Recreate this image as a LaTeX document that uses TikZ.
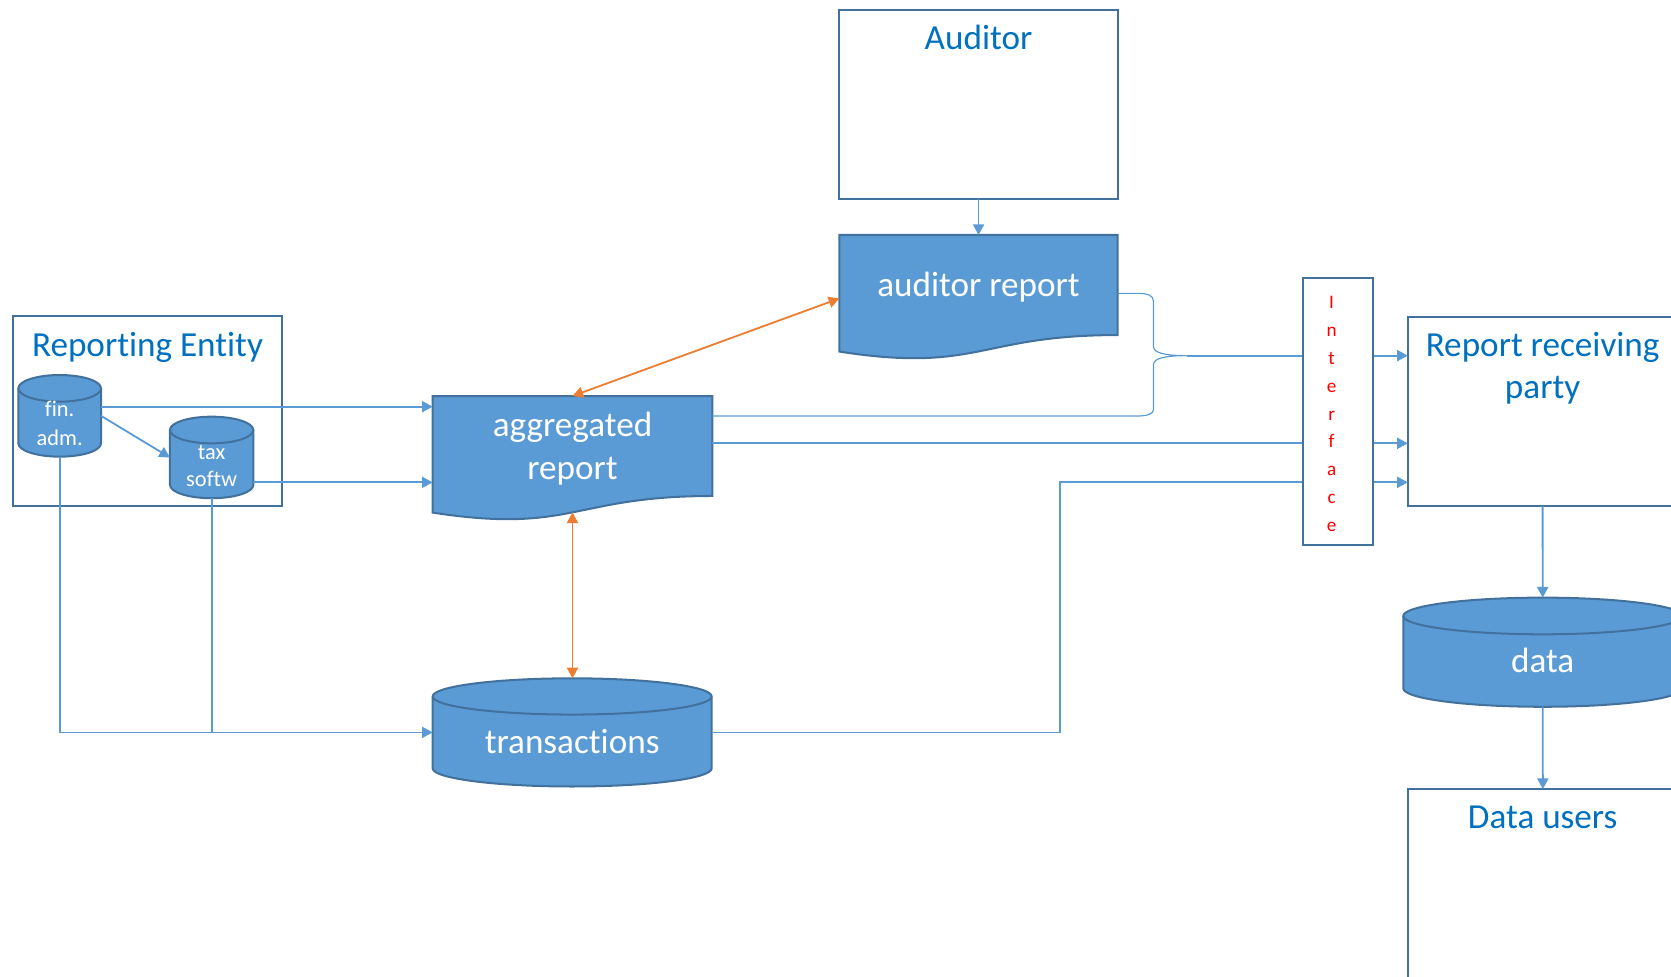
\documentclass[tikz,border=0pt]{standalone}
\usepackage{fontspec}
\setmainfont{Carlito}[Ligatures=CommonOff]
\usetikzlibrary{arrows.meta}
\definecolor{fillblue}{HTML}{5B9BD5}
\definecolor{edgeblue}{HTML}{41719C}
\definecolor{txtblue}{HTML}{0070C0}
\definecolor{orng}{HTML}{ED7D31}
\newcommand\cylbody[5]{%
  \pgfmathsetmacro\cylrx{(#2-#1)/4}\pgfmathsetmacro\cylry{#5/2}%
  \path[shapefill] (#1,#3) -- (#1,#4) arc[start angle=180,end angle=360,x radius=\cylrx pt,y radius=\cylry pt]
     -- (#2,#3) arc[start angle=0,end angle=180,x radius=\cylrx pt,y radius=\cylry pt] -- cycle;
  \draw[draw=edgeblue,line width=0.95pt] (#1,#3) arc[start angle=180,end angle=360,x radius=\cylrx pt,y radius=\cylry pt];}
\begin{document}
\begin{tikzpicture}[x=0.5pt,y=-0.5pt,
  wbox/.style={draw=edgeblue,line width=0.95pt,fill=white,inner sep=0pt,outer sep=0pt},
  region/.style={inner sep=0pt,outer sep=0pt},
  shapefill/.style={fill=fillblue,draw=edgeblue,line width=0.95pt},
  conn/.style={draw=fillblue,line width=0.85pt,-{Triangle[length=5pt,width=5.2pt]}},
  plainline/.style={draw=fillblue,line width=0.85pt},
  thinline/.style={draw=fillblue,line width=0.55pt},
  oconn/.style={draw=orng,line width=0.85pt,{Triangle[length=5pt,width=5.2pt]}-{Triangle[length=5pt,width=5.2pt]}},
  bigt/.style={font=\fontsize{16.5}{19.8}\selectfont,text=txtblue,inner sep=0pt,anchor=base},
  bigw/.style={font=\fontsize{16.5}{19.8}\selectfont,text=white,inner sep=0pt,anchor=base},
  smallw/.style={font=\fontsize{10.5}{13}\selectfont,text=white,inner sep=0pt,anchor=base},
  ifc/.style={font=\fontsize{9}{11}\selectfont,text=red,inner sep=0pt,anchor=base},
]
\useasboundingbox (0,0) rectangle (1568,916);
\clip (0,0) rectangle (1568,916);

% ---------- white boxes ----------
\node[wbox,minimum width=130.6pt,minimum height=88.65pt] (aud) at (918.2,98.05) {};
\node[bigt] (audT) at (918.2,46.9) {Auditor};

\node[wbox,minimum width=125.9pt,minimum height=89.15pt] (rent) at (138.4,385.35) {};
\node[bigt] (rentT) at (138.4,334.7) {Reporting Entity};

\node[wbox,minimum width=126.5pt,minimum height=88.85pt] (rrp) at (1447.5,385.95) {};
\node[bigt] (rrpT1) at (1447.5,334.7) {Report receiving};
\node[bigt] (rrpT2) at (1447.5,373.5) {party};

\node[wbox,minimum width=126.25pt,minimum height=129.8pt] (du) at (1447.75,870.2) {};
\node[bigt] (duT) at (1447.6,777.3) {Data users};

% ---------- documents ----------
\path[shapefill] (787.6,220.5) -- (1048.8,220.5) -- (1048.8,314.4)
   .. controls (918.2,314.4) and (918.2,350.2) .. (787.6,329.9) -- cycle;
\node[region,minimum width=130.6pt,minimum height=46.95pt] (arep) at (918.2,267.45) {};
\node[bigw] (arepT) at (918.2,278.4) {auditor report};

\path[shapefill] (406,371.6) -- (668.4,371.6) -- (668.4,465.4)
   .. controls (537.2,465.4) and (537.2,501.2) .. (406,481) -- cycle;
\node[region,minimum width=131.2pt,minimum height=46.9pt] (agg) at (537.2,418.5) {};
\node[bigw] (aggT1) at (537.2,409.8) {aggregated};
\node[bigw] (aggT2) at (537.2,449.5) {report};

% ---------- cylinders ----------
\cylbody{17.2}{94.8}{364.4}{416}{12.5}
\node[region,minimum width=38.8pt,minimum height=38.3pt] (fin) at (56,390.2) {};
\node[smallw] (finT1) at (56,391) {fin.};
\node[smallw] (finT2) at (56,418.2) {adm.};

\cylbody{159.5}{237.7}{403.5}{455}{12.5}
\node[region,minimum width=39.1pt,minimum height=38.3pt] (tax) at (198.6,429.3) {};
\node[smallw] (taxT1) at (198.6,431) {tax};
\node[smallw] (taxT2) at (198.6,456.7) {softw};

\cylbody{406}{667.8}{653.5}{721}{17}
\node[region,minimum width=130.9pt,minimum height=50.75pt] (trans) at (536.9,687.25) {};
\node[bigw] (transT) at (536.9,707.5) {transactions};

\cylbody{1316.8}{1578.4}{578}{646}{17.2}
\node[region,minimum width=130.8pt,minimum height=51.15pt] (data) at (1447.6,611.95) {};
\node[bigw] (dataT) at (1447.6,630.9) {data};

% ---------- helper coordinates ----------
\coordinate (finOut) at ([yshift=4.3pt]fin.east);
\coordinate (taxOut) at ([yshift=-11.65pt]tax.east);
\coordinate (arepIn) at ([yshift=-6.3pt]arep.west);
\coordinate (aggBot) at ([yshift=-7.7pt]agg.south);
\coordinate (aggOut) at ([yshift=1.25pt]agg.east);
\coordinate (aggOut2) at ([yshift=14.05pt]agg.east);
\coordinate (arepOut) at ([yshift=-3.9pt]arep.east);
\coordinate (brTip) at (1114.2,333.7);
\coordinate (jog) at (994.6,452.6);

% ---------- connectors ----------
\draw[conn] (aud.south) -- (arep.north);
\draw[conn] (finOut) -- (finOut -| agg.west);
\draw[conn] (taxOut) -- (taxOut -| agg.west);
\draw[conn] (fin.east) -- (tax.west);
\draw[conn] (fin.south) |- (trans.west);
\draw[plainline] (tax.south) -- (tax.south |- trans.west);
\draw[oconn] (agg.north) -- (arepIn);
\draw[oconn] (aggBot) -- (aggBot |- trans.north);
\draw[conn] (trans.east) -| (jog) -- (jog -| rrp.west);
\draw[conn] (aggOut) -- (aggOut -| rrp.west);
\draw[thinline] (arepOut) -- (1066,275.25)
   .. controls (1077,275.25) and (1082.4,277) .. (1082.4,283) -- (1082.4,325)
   .. controls (1082.4,331) and (1092,333.7) .. (brTip)
   .. controls (1092,333.7) and (1082.4,336.5) .. (1082.4,342) -- (1082.4,384)
   .. controls (1082.4,388.5) and (1077,390.4) .. (1066,390.4) -- (aggOut2);
\draw[conn] (brTip) -- (brTip -| rrp.west);
\draw[conn] (rrp.south) -- (data.north);
\draw[conn] (data.south) -- (du.north);

% ---------- interface ----------
\node[wbox,minimum width=32.5pt,minimum height=125.45pt] (iface) at (1255.5,385.95) {};
\foreach \ch [count=\k from 0] in {I,n,t,e,r,f,a,c,e}
  \node[ifc] (ifc\k) at (1249.5,{289.8+26.1*\k}) {\ch};
\end{tikzpicture}
\end{document}
